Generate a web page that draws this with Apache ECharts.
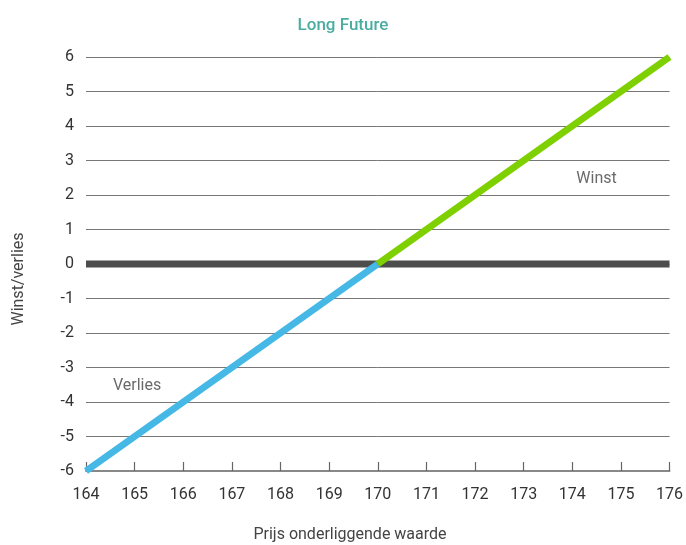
<!DOCTYPE html>
<html><head><meta charset="utf-8">
<script src="https://cdn.jsdelivr.net/npm/echarts@6/dist/echarts.min.js"></script>
<style>html,body{margin:0;padding:0;background:#fff}#c{width:686px;height:545px}</style>
</head><body><div id="c"></div>
<script>
const title = "Long Future";
const xName = "Prijs onderliggende waarde";
const yName = "Winst/verlies";
const lossLine = [[164, -6], [170, 0]];
const profitLine = [[170, 0], [176, 6]];
const zeroLine = [[164, 0], [176, 0]];
const textLabels = [{ name: "Winst", value: [174.5, 2.45] }, { name: "Verlies", value: [165.05, -3.55] }];
const xMin = 164, xMax = 176, yMin = -6, yMax = 6;

const font = "Roboto";
const chart = echarts.init(document.getElementById('c'));
chart.setOption({
  animation: false,
  title: { text: title, left: 'center', top: 12, textStyle: { color: '#4aada0', fontSize: 17, fontWeight: 500, fontFamily: font } },
  grid: { left: 86, right: 12, top: 57, bottom: 74, containLabel: false },
  graphic: [
    { type: 'text', x: 350, y: 535, style: { text: xName, fill: '#444', font: '16px Roboto', align: 'center', verticalAlign: 'middle' } },
    { type: 'text', x: 19, y: 279, rotation: Math.PI / 2, style: { text: yName, fill: '#444', font: '16px Roboto', align: 'center', verticalAlign: 'middle' } }
  ],
  xAxis: {
    type: 'value', min: xMin, max: xMax, interval: 1,
    axisLine: { show: true, onZero: false, lineStyle: { color: '#888', width: 2 } },
    axisTick: { show: true, inside: true, length: 9, lineStyle: { color: '#666', width: 1.2 } },
    axisLabel: { color: '#333', fontSize: 16, fontFamily: font, margin: 16 },
    splitLine: { show: false }
  },
  yAxis: {
    type: 'value', min: yMin, max: yMax, interval: 1,
    axisLine: { show: false }, axisTick: { show: false },
    axisLabel: { color: '#333', fontSize: 16, fontFamily: font, margin: 12 },
    splitLine: { show: true, lineStyle: { color: '#777', width: 1 } }
  },
  series: [
    { type: 'line', data: zeroLine, symbol: 'none', lineStyle: { color: '#4d4d4d', width: 7 }, z: 2, silent: true },
    { type: 'line', data: lossLine, symbol: 'none', lineStyle: { color: '#45b8e6', width: 7, cap: 'butt' }, z: 3 },
    { type: 'line', data: profitLine, symbol: 'none', lineStyle: { color: '#7ed000', width: 7, cap: 'butt' }, z: 3 },
    { type: 'scatter', data: textLabels, symbolSize: 0, z: 4,
      label: { show: true, position: 'inside', formatter: p => p.name, color: '#444', fontSize: 16, fontFamily: font } }
  ]
});
</script></body></html>
